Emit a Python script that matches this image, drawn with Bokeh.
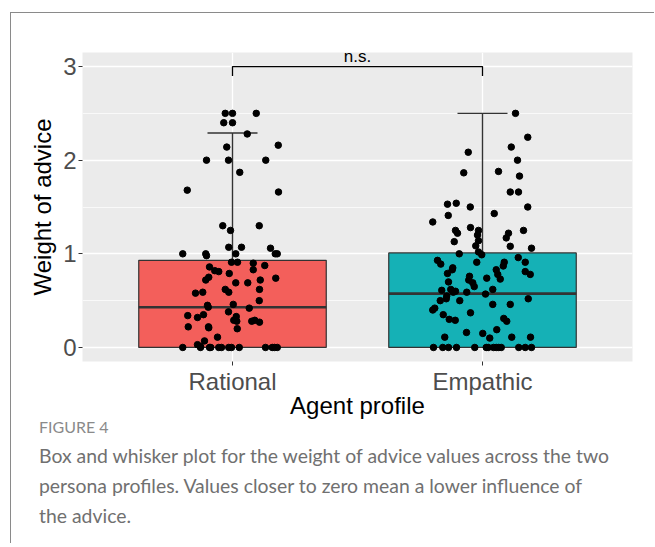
from bokeh.plotting import figure
from bokeh.models import Label, FixedTicker, Range1d, ColumnDataSource, Div
from bokeh.layouts import column
from bokeh.embed import file_html
from bokeh.resources import INLINE

# ---------------- data ----------------
profiles = ["Rational", "Empathic"]
positions = [1, 2]
box_colors = ["#F35F5B", "#15B1B6"]
q1 = [0.0, 0.0]
median = [0.43, 0.575]
q3 = [0.93, 1.01]
whisker_hi = [2.29, 2.50]

rational_x = [0.971, 1.000, 1.095, 0.965, 1.000, 1.059, 1.183, 0.977, 0.896, 0.984,
              1.133, 1.029, 0.819, 1.184, 0.961, 1.107, 0.992, 0.985, 1.036, 1.152,
              0.801, 0.893, 0.896, 1.013, 1.171, 1.179, 0.996, 1.020, 1.083, 1.129,
              0.908, 1.083, 0.929, 0.945, 0.987, 0.905, 0.893, 1.111, 1.173, 1.013,
              1.061, 0.971, 0.985, 1.108, 0.852, 0.881, 1.107, 0.900, 0.903, 1.003,
              1.067, 0.984, 0.821, 0.860, 0.884, 1.015, 1.005, 1.017, 1.077, 1.089,
              1.108, 0.823, 0.904, 0.905, 1.019, 0.940, 0.888, 0.860, 0.872,
              0.801, 0.872, 0.908, 0.913, 0.945, 0.956, 0.985, 0.996, 1.027, 1.132,
              1.159, 1.168, 1.179]
rational_y = [2.50, 2.50, 2.50, 2.40, 2.40, 2.28, 2.16, 2.14, 2.00, 2.00,
              2.00, 1.87, 1.68, 1.66, 1.30, 1.30, 1.25, 1.07, 1.07, 1.06,
              1.00, 1.00, 0.98, 1.00, 1.00, 1.00, 0.91, 0.91, 0.90, 0.875,
              0.86, 0.83, 0.82, 0.81, 0.79, 0.75, 0.72, 0.72, 0.74, 0.69,
              0.69, 0.62, 0.59, 0.62, 0.58, 0.59, 0.50, 0.45, 0.43, 0.46,
              0.42, 0.38, 0.34, 0.32, 0.35, 0.33, 0.29, 0.28, 0.28, 0.29,
              0.27, 0.22, 0.22, 0.21, 0.20, 0.11, 0.07, 0.03, 0.01,
              0.0, 0.0, 0.0, 0.0, 0.0, 0.0, 0.0, 0.0, 0.0, 0.0,
              0.0, 0.0, 0.0]

empathic_x = [2.132, 2.181, 2.115, 1.943, 2.140, 2.064, 1.925, 2.148, 2.111, 2.144,
              1.860, 1.895, 1.951, 2.181, 2.047, 1.863, 1.801, 1.952, 1.892, 1.900,
              1.984, 1.980, 2.164, 2.104, 2.095, 1.887, 1.984, 1.973, 2.111, 2.196,
              1.984, 1.997, 1.907, 1.820, 1.833, 1.977, 2.087, 2.083, 2.143, 2.171,
              1.881, 1.879, 2.055, 2.061, 1.860, 2.171, 2.191, 1.948, 1.945, 2.017,
              2.071, 1.864, 1.961, 1.967, 2.041, 1.837, 1.873, 1.883, 1.892, 1.937,
              2.012, 1.857, 1.855, 2.183, 1.831, 1.909, 2.041, 2.111, 1.809, 1.801,
              1.952, 1.843, 1.867, 1.891, 2.085, 2.097, 2.057, 1.936, 2.001, 2.029,
              1.849, 2.117, 2.192,
              1.804, 1.841, 1.864, 1.896, 1.969, 2.015, 2.023, 2.044, 2.055, 2.065,
              2.075, 2.145, 2.171, 2.196]
empathic_y = [2.50, 2.245, 2.14, 2.085, 2.00, 1.88, 1.865, 1.83, 1.66, 1.66,
              1.53, 1.54, 1.50, 1.50, 1.43, 1.41, 1.34, 1.28, 1.25, 1.22,
              1.25, 1.20, 1.25, 1.22, 1.17, 1.13, 1.14, 1.085, 1.08, 1.06,
              1.02, 0.99, 1.00, 0.93, 0.89, 0.91, 0.91, 0.87, 0.96, 0.91,
              0.85, 0.83, 0.83, 0.78, 0.79, 0.81, 0.78, 0.76, 0.72, 0.74,
              0.73, 0.70, 0.69, 0.65, 0.62, 0.61, 0.62, 0.59, 0.60, 0.59,
              0.57, 0.55, 0.52, 0.52, 0.50, 0.50, 0.46, 0.46, 0.42, 0.40,
              0.37, 0.35, 0.30, 0.29, 0.31, 0.28, 0.19, 0.16, 0.15, 0.10,
              0.11, 0.11, 0.11,
              0.0, 0.0, 0.0, 0.0, 0.0, 0.0, 0.0, 0.0, 0.0, 0.0,
              0.0, 0.0, 0.0, 0.0]

y_ticks = [0, 1, 2, 3]
y_minor = [0.5, 1.5, 2.5]
bracket_y = 3.0
bracket_drop = 0.1
bracket_text = "n.s."

caption_head = "FIGURE 4"
caption_lines = [
    "Box and whisker plot for the weight of advice values across the two",
    "persona profiles. Values closer to zero mean a lower influence of",
    "the advice.",
]

# ---------------- figure ----------------
p = figure(width=635, height=408, x_range=Range1d(0.4, 2.6), y_range=Range1d(-0.15, 3.15),
           output_backend="svg", toolbar_location=None,
           min_border_left=71, min_border_right=14, min_border_top=39, min_border_bottom=60)
p.background_fill_color = "#EBEBEB"
p.border_fill_color = "white"
p.outline_line_color = None

p.xaxis.ticker = FixedTicker(ticks=positions)
p.xaxis.major_label_overrides = {pos: name for pos, name in zip(positions, profiles)}
p.yaxis.ticker = FixedTicker(ticks=y_ticks, minor_ticks=y_minor)

for ax in (p.xaxis, p.yaxis):
    ax.axis_line_color = None
    ax.major_tick_line_color = "#333333"
    ax.major_tick_line_width = 1
    ax.major_tick_in = 0
    ax.major_tick_out = 4
    ax.minor_tick_line_color = None
    ax.major_label_text_font = "Liberation Sans"
    ax.major_label_text_font_size = "24px"
    ax.major_label_text_color = "#4D4D4D"
    ax.axis_label_text_font = "Liberation Sans"
    ax.axis_label_text_font_size = "24px"
    ax.axis_label_text_font_style = "normal"
    ax.axis_label_text_color = "black"
    ax.major_label_standoff = 2

p.xaxis.axis_label = "Agent profile"
p.yaxis.axis_label = "Weight of advice"
p.xaxis.axis_label_standoff = -6
p.yaxis.axis_label_standoff = 4

p.xgrid.grid_line_color = "white"
p.xgrid.grid_line_width = 1.3
p.ygrid.grid_line_color = "white"
p.ygrid.grid_line_width = 1.3
p.ygrid.minor_grid_line_color = "white"
p.ygrid.minor_grid_line_width = 0.7

half = 0.375
cap = 0.1
src = ColumnDataSource(dict(x=positions, q1=q1, med=median, q3=q3, hi=whisker_hi, color=box_colors,
                            left=[v - half for v in positions], right=[v + half for v in positions],
                            cl=[v - cap for v in positions], cr=[v + cap for v in positions]))

# whiskers
p.segment(x0="x", x1="x", y0="q3", y1="hi", source=src, line_color="#333333", line_width=1.4)
p.segment(x0="cl", x1="cr", y0="hi", y1="hi", source=src, line_color="#333333", line_width=1.4)
# boxes
p.vbar(x="x", width=2 * half, bottom="q1", top="q3", source=src, fill_color="color",
       line_color="#333333", line_width=1.2)
p.segment(x0="left", x1="right", y0="med", y1="med", source=src, line_color="#333333", line_width=2.6)

# jittered points
p.scatter(rational_x, rational_y, size=6.5, fill_color="black", line_color="black")
p.scatter(empathic_x, empathic_y, size=6.5, fill_color="black", line_color="black")

# significance bracket
p.line(x=[positions[0], positions[0], positions[1], positions[1]],
       y=[bracket_y - bracket_drop, bracket_y, bracket_y, bracket_y - bracket_drop],
       line_color="black", line_width=1.3)
p.add_layout(Label(x=(positions[0] + positions[1]) / 2, y=bracket_y, y_offset=1, text=bracket_text,
                   text_align="center", text_baseline="bottom", text_font="Liberation Sans",
                   text_font_size="17px", text_color="black"))

caption_html = (
    '<div style="font-family: Lato, sans-serif; padding-left: 28px; margin-top: -4px;">'
    f'<div style="font-size: 16px; line-height: 20px; color: #8A8A8A;">{caption_head}</div>'
    '<div style="font-size: 19.4px; line-height: 30px; color: #707070; margin-top: 4px;">'
    + "<br>".join(caption_lines) +
    '</div></div>'
)
cap_div = Div(text=caption_html, width=643, height=122, margin=(0, 0, 0, 0))

layout = column(p, cap_div, spacing=0,
                styles={"border-top": "1px solid #8A8A8A", "border-left": "1px solid #8A8A8A",
                        "margin-top": "12px", "margin-left": "10px"})

open("out.html", "w").write(file_html(layout, INLINE))
